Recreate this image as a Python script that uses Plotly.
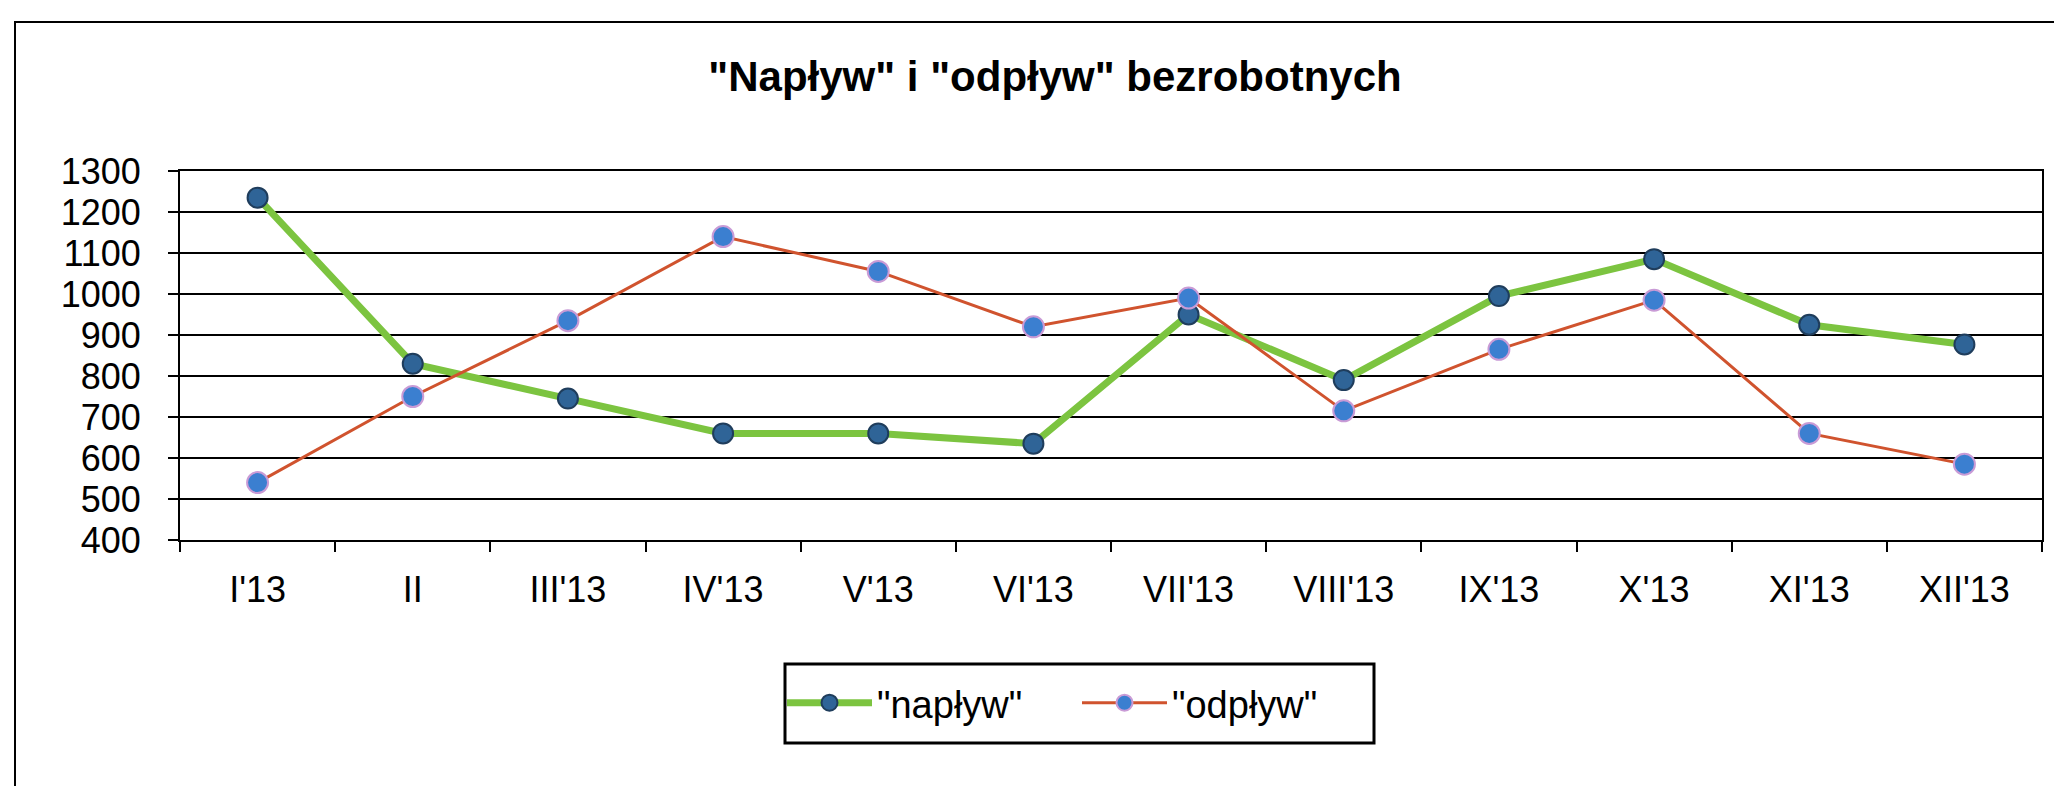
import plotly.graph_objects as go

# ---- data ----
months = ["I'13", "II", "III'13", "IV'13", "V'13", "VI'13", "VII'13",
          "VIII'13", "IX'13", "X'13", "XI'13", "XII'13"]
naplyw = [1235, 830, 745, 660, 660, 635, 950, 790, 995, 1085, 925, 877]
odplyw = [540, 750, 935, 1140, 1055, 920, 990, 715, 865, 985, 660, 585]
series_names = ['"napływ"', '"odpływ"']
title_text = '"Napływ" i "odpływ" bezrobotnych'

W, H = 2062, 786
OFF = 8  # page body margin
ML, MR, MT, MB = 180 - OFF, W - 2042 + OFF, 171 - OFF, H - 540 + OFF
FONT = "Liberation Sans, Arial, sans-serif"

fig = go.Figure()
fig.add_trace(go.Scatter(
    x=months, y=naplyw, name=series_names[0], mode="lines+markers",
    line=dict(color="#7cc440", width=7),
    marker=dict(size=20, color="#2f6497", line=dict(color="#1f3d5c", width=2)),
))
fig.add_trace(go.Scatter(
    x=months, y=odplyw, name=series_names[1], mode="lines+markers",
    line=dict(color="#d0532e", width=3),
    marker=dict(size=21, color="#3b7fd0", line=dict(color="#c99bd6", width=2)),
))

pw = W - ML - MR
ph = H - MT - MB
def px_x(p):  # page px -> paper
    return (p - OFF - ML) / pw
def px_y(p):
    return (H - MB - (p - OFF)) / ph

fig.update_layout(
    width=W, height=H,
    margin=dict(l=ML, r=MR, t=MT, b=MB),
    paper_bgcolor="white", plot_bgcolor="white",
    font=dict(family=FONT, size=36, color="black"),
    title=dict(text="<b>" + title_text + "</b>", x=px_x(1055), xref="paper",
               xanchor="center", y=1 - (76 - OFF) / H, yref="container", yanchor="middle",
               font=dict(size=42, family=FONT, color="black")),
    showlegend=True,
    legend=dict(orientation="h", x=px_x(782), y=px_y(703), xanchor="left",
                yanchor="middle", borderwidth=0, bgcolor="rgba(0,0,0,0)",
                font=dict(size=38, family=FONT), itemwidth=85,
                entrywidth=195, entrywidthmode="pixels"),
    xaxis=dict(type="category", range=[-0.5, len(months) - 0.5],
               showgrid=False, showline=True, linecolor="black", linewidth=2,
               mirror=True, ticks="outside", ticklen=10, tickwidth=2,
               tickcolor="black", tickson="boundaries",
               tickfont=dict(size=36, family=FONT), ticklabelstandoff=17),
    yaxis=dict(range=[400, 1300], dtick=100, tick0=400,
               showgrid=True, gridcolor="black", gridwidth=2,
               showline=True, linecolor="black", linewidth=2, mirror=True,
               ticks="outside", ticklen=10, tickwidth=2, tickcolor="black",
               tickfont=dict(size=36, family=FONT), ticklabelstandoff=20,
               zeroline=False),
    shapes=[
        dict(type="rect", xref="paper", yref="paper",
             x0=px_x(15), x1=px_x(2080), y0=px_y(810), y1=px_y(22),
             line=dict(color="black", width=2), layer="below"),
        dict(type="rect", xref="paper", yref="paper",
             x0=px_x(785), x1=px_x(1374), y0=px_y(743), y1=px_y(664),
             line=dict(color="black", width=3), layer="below"),
    ],
)

fig.write_html("out.html")
